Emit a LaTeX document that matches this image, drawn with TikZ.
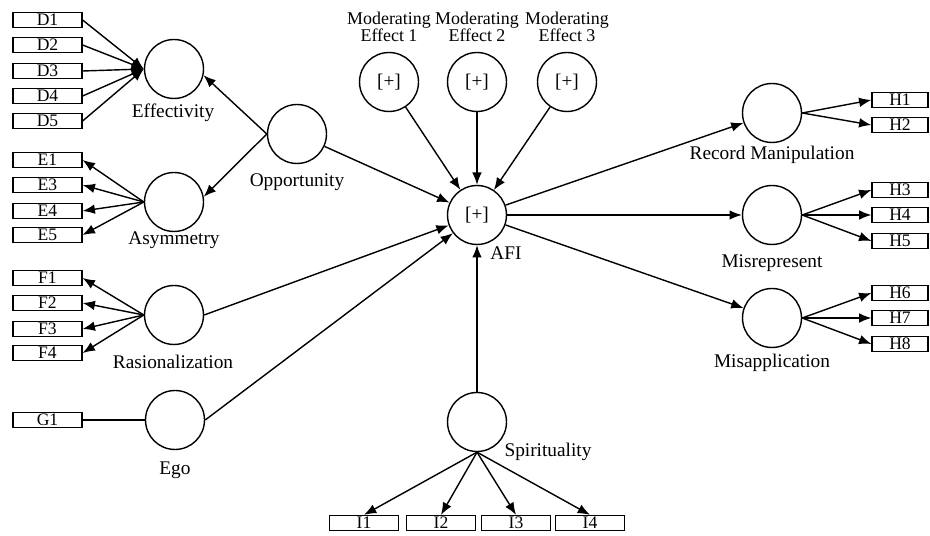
\documentclass[tikz,border=0pt]{standalone}
\usepackage{fontspec}
\setmainfont{Liberation Serif}
\usetikzlibrary{arrows.meta}

\begin{document}
\begin{tikzpicture}[x=0.02cm, y=-0.02cm,
        latent/.style={draw, circle, line width=0.8pt, minimum size=1.18cm, inner sep=0pt, font=\fontsize{11}{12}\selectfont},
        indicator/.style={draw, rectangle, line width=0.7pt, minimum width=1.38cm, minimum height=0.3cm, inner sep=0pt, font=\fontsize{10}{9}\selectfont},
        hindicator/.style={indicator, minimum width=1.12cm},
        lbl/.style={inner sep=0pt, align=center, font=\fontsize{11}{8.6}\selectfont},
        modlbl/.style={lbl, font=\fontsize{10.2}{8.6}\selectfont},
        arr/.style={line width=0.8pt, -{Latex[length=7pt, width=5.5pt]}},
        link/.style={line width=0.8pt}]
            \useasboundingbox (0,0) rectangle (930,536);

            % latent variables
            \node[lbl] (effl) at (173, 113) {Effectivity};
            \node[latent] (eff) at (174, 69) {};
            \node[latent] (asy) at (174, 202) {};
            \node[lbl] (asyl) at (174, 240) {Asymmetry};
            \node[latent] (ras) at (174, 315) {};
            \node[lbl] (rasl) at (173, 362) {Rasionalization};
            \node[latent] (ego) at (175, 420) {};
            \node[lbl] (egol) at (175, 470) {Ego};
            \node[latent] (opp) at (297, 134) {};
            \node[lbl] (oppl) at (297, 182) {Opportunity};
            \node[latent] (afi) at (477, 215) {[+]};
            \node[lbl] (afil) at (506, 253) {AFI};
            \node[latent] (me1) at (389, 82) {[+]};
            \node[modlbl] (me1l) at (389, 27) {Moderating\\[-1pt]Effect 1};
            \node[latent] (me2) at (477, 82) {[+]};
            \node[modlbl] (me2l) at (477, 27) {Moderating\\[-1pt]Effect 2};
            \node[latent] (me3) at (567, 82) {[+]};
            \node[modlbl] (me3l) at (567, 27) {Moderating\\[-1pt]Effect 3};
            \node[latent] (spi) at (477, 422) {};
            \node[lbl] (spil) at (548, 452) {Spirituality};
            \node[latent] (rec) at (772, 113) {};
            \node[lbl] (recl) at (772, 155) {Record Manipulation};
            \node[latent] (mis) at (772, 215) {};
            \node[lbl] (misl) at (772, 263) {Misrepresent};
            \node[latent] (map) at (772, 318) {};
            \node[lbl] (mapl) at (772, 363) {Misapplication};

            % indicators
            \node[indicator] (d1) at (47.5, 20) {D1};
            \node[indicator] (d2) at (47.5, 45) {D2};
            \node[indicator] (d3) at (47.5, 71) {D3};
            \node[indicator] (d4) at (47.5, 96) {D4};
            \node[indicator] (d5) at (47.5, 121) {D5};
            \node[indicator] (e1) at (47.5, 160) {E1};
            \node[indicator] (e3) at (47.5, 185) {E3};
            \node[indicator] (e4) at (47.5, 211) {E4};
            \node[indicator] (e5) at (47.5, 235) {E5};
            \node[indicator] (f1) at (47.5, 278) {F1};
            \node[indicator] (f2) at (47.5, 303) {F2};
            \node[indicator] (f3) at (47.5, 329) {F3};
            \node[indicator] (f4) at (47.5, 353) {F4};
            \node[indicator] (g1) at (47.5, 420) {G1};
            \node[indicator] (i1) at (364, 523) {I1};
            \node[indicator] (i2) at (441, 523) {I2};
            \node[indicator] (i3) at (516, 523) {I3};
            \node[indicator] (i4) at (590, 523) {I4};
            \node[hindicator] (h1) at (900, 100) {H1};
            \node[hindicator] (h2) at (900, 125) {H2};
            \node[hindicator] (h3) at (900, 190) {H3};
            \node[hindicator] (h4) at (900, 215) {H4};
            \node[hindicator] (h5) at (900, 241) {H5};
            \node[hindicator] (h6) at (900, 293) {H6};
            \node[hindicator] (h7) at (900, 318) {H7};
            \node[hindicator] (h8) at (900, 344) {H8};

            % formative D
            \draw[arr] (d1.east) -- (eff.west);
            \draw[arr] (d2.east) -- (eff.west);
            \draw[arr] (d3.east) -- (eff.west);
            \draw[arr] (d4.east) -- (eff.west);
            \draw[arr] (d5.east) -- (eff.west);

            % reflective E, F
            \draw[arr] (asy.west) -- (e1.east);
            \draw[arr] (asy.west) -- (e3.east);
            \draw[arr] (asy.west) -- (e4.east);
            \draw[arr] (asy.west) -- (e5.east);
            \draw[arr] (ras.west) -- (f1.east);
            \draw[arr] (ras.west) -- (f2.east);
            \draw[arr] (ras.west) -- (f3.east);
            \draw[arr] (ras.west) -- (f4.east);
            \draw[link] (g1.east) -- (ego.west); % G1-Ego

            % structural paths
            \draw[arr] (opp.west) -- (eff.-12);
            \draw[arr] (opp.west) -- (asy.10);
            \draw[arr] (opp) -- (afi);
            \draw[arr] (ras.east) -- (afi);
            \draw[arr] (ego.east) -- (afi);
            \draw[arr] (me1) -- (afi);
            \draw[arr] (me2) -- (afi);
            \draw[arr] (me3) -- (afi);
            \draw[arr] (spi.north) -- (afi.south);
            \draw[arr] (afi) -- (rec);
            \draw[arr] (afi) -- (mis);
            \draw[arr] (afi) -- (map);

            % reflective I, H
            \draw[arr] (spi.south) -- (i1.north);
            \draw[arr] (spi.south) -- (i2.north);
            \draw[arr] (spi.south) -- (i3.north);
            \draw[arr] (spi.south) -- (i4.north);
            \draw[arr] (rec.east) -- (h1.west);
            \draw[arr] (rec.east) -- (h2.west);
            \draw[arr] (mis.east) -- (h3.west);
            \draw[arr] (mis.east) -- (h4.west);
            \draw[arr] (mis.east) -- (h5.west);
            \draw[arr] (map.east) -- (h6.west);
            \draw[arr] (map.east) -- (h7.west);
            \draw[arr] (map.east) -- (h8.west);
        \end{tikzpicture}
\end{document}
